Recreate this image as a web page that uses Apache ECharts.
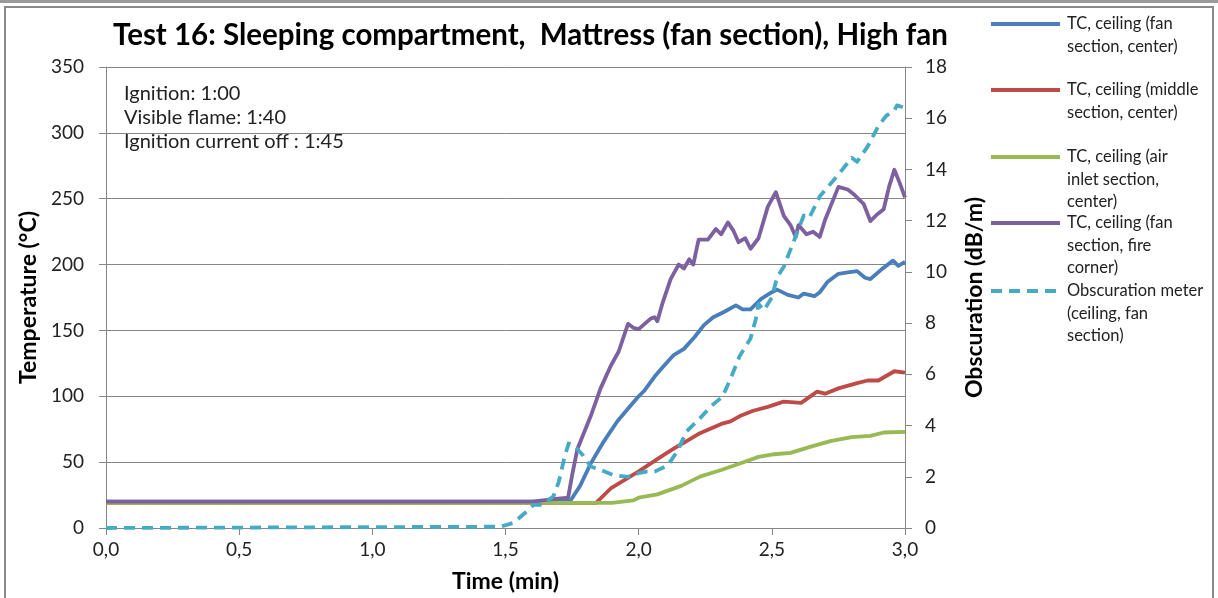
<!DOCTYPE html>
<html>
<head>
<meta charset="utf-8">
<script src="https://cdn.jsdelivr.net/npm/echarts@6/dist/echarts.min.js"></script>
<style>
html,body{margin:0;padding:0;background:#fff;}
#chart{width:1218px;height:598px;}
</style>
</head>
<body>
<div id="chart"></div>
<script>
// ---- data ----
var xTicks = [0, 0.5, 1.0, 1.5, 2.0, 2.5, 3.0];

var blueT = [0, 1.70, 1.745, 1.78, 1.82, 1.87, 1.92, 1.97, 2.0, 2.02, 2.06, 2.09, 2.13, 2.17, 2.21, 2.245, 2.28, 2.32, 2.365, 2.39, 2.42, 2.46, 2.50, 2.52, 2.56, 2.60, 2.62, 2.66, 2.68, 2.71, 2.75, 2.785, 2.82, 2.85, 2.87, 2.91, 2.955, 2.975, 3.0];
var blueV = [20, 20, 21, 32, 49, 66, 81, 93, 100, 104, 115, 122, 131, 136, 145, 154, 160, 164, 169, 166, 166, 174, 179, 181, 177, 175, 178, 176, 179, 187, 193, 194, 195, 190, 189, 196, 203, 199, 202];

var redT = [0, 1.84, 1.895, 1.96, 2.0, 2.06, 2.09, 2.13, 2.18, 2.23, 2.31, 2.345, 2.38, 2.43, 2.485, 2.53, 2.545, 2.61, 2.67, 2.70, 2.75, 2.82, 2.86, 2.9, 2.96, 3.0];
var redV = [19, 19, 30, 38, 43, 51, 55, 60, 66, 72, 79, 81, 85, 89, 92, 95, 96, 95, 103.5, 102, 106, 110, 112, 112, 119, 118];

var greenT = [0, 1.90, 1.98, 2.0, 2.07, 2.16, 2.23, 2.31, 2.38, 2.45, 2.51, 2.57, 2.65, 2.72, 2.80, 2.87, 2.92, 3.0];
var greenV = [19, 19, 21, 23, 25.5, 32, 39, 44, 49, 54, 56, 57, 62, 66, 69, 70, 72.5, 73];

var purpleT = [0, 1.60, 1.68, 1.735, 1.75, 1.77, 1.82, 1.857, 1.895, 1.925, 1.96, 1.98, 2.0, 2.045, 2.06, 2.07, 2.09, 2.12, 2.15, 2.17, 2.19, 2.205, 2.225, 2.26, 2.29, 2.31, 2.335, 2.355, 2.375, 2.40, 2.42, 2.45, 2.485, 2.515, 2.545, 2.57, 2.59, 2.60, 2.63, 2.655, 2.68, 2.70, 2.72, 2.75, 2.785, 2.81, 2.83, 2.845, 2.87, 2.895, 2.92, 2.94, 2.96, 2.98, 3.0];
var purpleV = [20, 20, 22, 23, 40, 60, 85, 106, 123, 134, 155, 152, 151, 159, 160, 157, 171, 189, 200, 197, 204, 200, 219, 219, 227, 223, 232, 226, 217, 220, 212, 220, 244, 255, 237, 230, 221, 230, 223, 225, 221, 234, 244, 259, 257, 253, 249, 246, 233, 238, 242, 259, 272, 262, 251];

var obsT = [0, 1.48, 1.53, 1.58, 1.605, 1.64, 1.68, 1.70, 1.72, 1.737, 1.755, 1.79, 1.82, 1.857, 1.906, 1.96, 2.0, 2.03, 2.06, 2.11, 2.145, 2.18, 2.23, 2.27, 2.315, 2.345, 2.38, 2.42, 2.44, 2.45, 2.47, 2.50, 2.52, 2.545, 2.59, 2.62, 2.64, 2.68, 2.75, 2.80, 2.82, 2.86, 2.9, 2.93, 2.96, 2.97, 3.0];
var obsV = [0, 0.05, 0.2, 0.65, 0.9, 0.9, 1.24, 1.8, 2.7, 3.3, 3.25, 2.85, 2.4, 2.27, 2.06, 2.0, 2.14, 2.2, 2.2, 2.45, 3.0, 3.77, 4.28, 4.74, 5.13, 5.83, 6.73, 7.4, 8.16, 8.75, 8.5, 9.0, 9.8, 10.2, 11.4, 12.2, 12.1, 12.95, 13.8, 14.46, 14.3, 14.9, 15.7, 16.1, 16.3, 16.5, 16.4];

var seriesNames = [
  'TC, ceiling (fan section, center)',
  'TC, ceiling (middle section, center)',
  'TC, ceiling (air inlet section, center)',
  'TC, ceiling (fan section, fire corner)',
  'Obscuration meter (ceiling, fan section)'
];
var legendLines = [
  ['TC, ceiling (fan', 'section, center)'],
  ['TC, ceiling (middle', 'section, center)'],
  ['TC, ceiling (air', 'inlet section,', 'center)'],
  ['TC, ceiling (fan', 'section, fire', 'corner)'],
  ['Obscuration meter', '(ceiling, fan', 'section)']
];
var annotationLines = ['Ignition: 1:00', 'Visible flame: 1:40', 'Ignition current off : 1:45'];
var titleText = 'Test 16: Sleeping compartment,  Mattress (fan section), High fan';

// ---- build ----
function pairs(t, v) { return t.map(function (x, i) { return [x, v[i]]; }); }
var colors = ['#4A7EBB', '#BE4B48', '#98B954', '#7D60A0', '#46AAC5'];
var FONT = 'Lato';
var LH = 22.5;
var legendIconY = [24, 90, 157, 223, 291];

var legends = seriesNames.map(function (name, i) {
  var n = legendLines[i].length;
  var blockH = (2 * n - 1) * LH;
  return {
    data: [name],
    orient: 'vertical',
    left: 989,
    top: legendIconY[i] - blockH / 2,
    padding: 0,
    itemWidth: 69,
    itemHeight: 12,
    itemGap: 0,
    selectedMode: false,
    itemStyle: { opacity: 0, borderWidth: 0 },
    lineStyle: { width: 4 },
    formatter: function () {
      var pre = [];
      for (var k = 0; k < n - 1; k++) pre.push('');
      return pre.concat(legendLines[i]).join('\n');
    },
    textStyle: { fontFamily: FONT, fontSize: 16.5, color: '#222', lineHeight: LH, padding: [0, 0, 0, 2] }
  };
});

var dataSets = [pairs(blueT, blueV), pairs(redT, redV), pairs(greenT, greenV), pairs(purpleT, purpleV), pairs(obsT, obsV)];
var series = dataSets.map(function (d, i) {
  return {
    name: seriesNames[i],
    type: 'line',
    data: d,
    yAxisIndex: i === 4 ? 1 : 0,
    showSymbol: false,
    symbol: 'none',
    smooth: false,
    lineStyle: { color: colors[i], width: 3.8, type: i === 4 ? [11, 7] : 'solid', cap: 'butt', join: 'round' },
    itemStyle: { color: colors[i] },
    z: 2 + i
  };
});

var axisGray = '#868686';
var nameFont = { fontFamily: FONT, fontWeight: 'bold', fontSize: 23, color: '#000' };
var chart = echarts.init(document.getElementById('chart'), null, { renderer: 'canvas' });
chart.setOption({
  animation: false,
  backgroundColor: '#fff',
  title: {
    text: titleText,
    left: 108, top: 15,
    textStyle: { fontFamily: FONT, fontWeight: 'bold', fontSize: 29.5, color: '#000' }
  },
  legend: legends,
  grid: { left: 106, top: 67, right: 313, bottom: 68 },
  xAxis: {
    type: 'value', min: 0, max: 3, interval: 0.5,
    name: 'Time (min)', nameLocation: 'middle', nameGap: 42,
    nameTextStyle: nameFont,
    axisLine: { show: true, lineStyle: { color: axisGray, width: 1 } },
    axisTick: { show: true, length: 7, lineStyle: { color: axisGray } },
    splitLine: { show: false },
    axisLabel: { margin: 12, fontFamily: FONT, fontSize: 19, color: '#222',
      formatter: function (v) { return v.toFixed(1).replace('.', ','); } }
  },
  yAxis: [{
    type: 'value', min: 0, max: 350, interval: 50,
    name: 'Temperature (°C)', nameLocation: 'middle', nameGap: 66, nameRotate: 90,
    nameTextStyle: nameFont,
    axisLine: { show: true, lineStyle: { color: axisGray, width: 1 } },
    axisTick: { show: true, length: 7, lineStyle: { color: axisGray } },
    splitLine: { show: true, lineStyle: { color: axisGray, width: 1 } },
    axisLabel: { margin: 22, fontFamily: FONT, fontSize: 19, color: '#222' }
  }, {
    type: 'value', min: 0, max: 18, interval: 2, position: 'right',
    name: 'Obscuration (dB/m)', nameLocation: 'middle', nameGap: 58, nameRotate: 90,
    nameTextStyle: nameFont,
    axisLine: { show: true, lineStyle: { color: axisGray, width: 1 } },
    axisTick: { show: true, length: 7, lineStyle: { color: axisGray } },
    splitLine: { show: false },
    axisLabel: { margin: 20, fontFamily: FONT, fontSize: 19, color: '#222' }
  }],
  graphic: [
    { type: 'rect', shape: { x: 5, y: 7, width: 1208, height: 600 }, style: { fill: 'none', stroke: '#8a8a8a', lineWidth: 2 }, silent: true, z: -1 },
    { type: 'line', shape: { x1: 0, y1: 1.5, x2: 1218, y2: 1.5 }, style: { stroke: '#9a9a9a', lineWidth: 3 }, silent: true },
    { type: 'text', left: 124, top: 82,
      style: { text: annotationLines.join('\n'), fontFamily: FONT, fontSize: 20, lineHeight: 24, fill: '#222' } }
  ],
  series: series
});
</script>
</body>
</html>
